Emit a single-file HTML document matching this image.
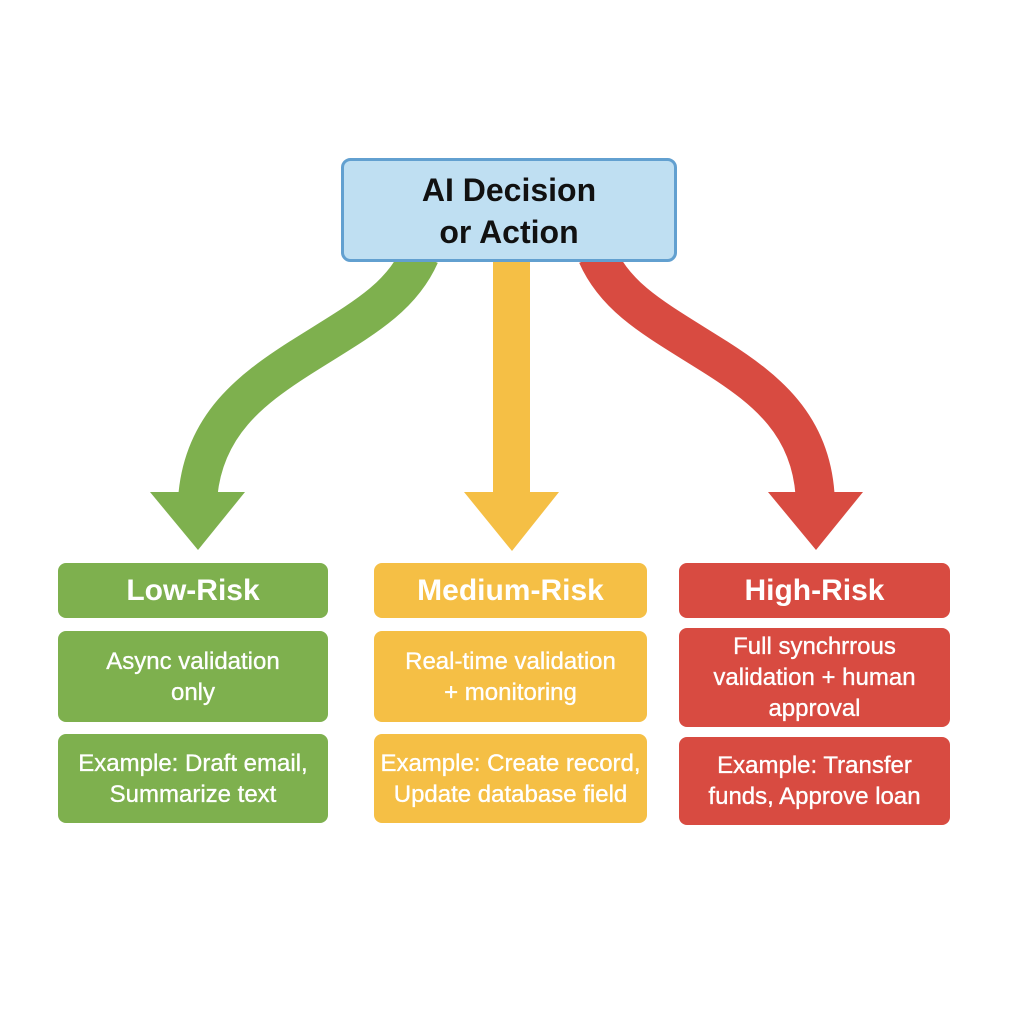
<!DOCTYPE html>
<html>
<head>
<meta charset="utf-8">
<style>
  html,body{margin:0;padding:0;background:#fff;}
  body{width:1024px;height:1024px;position:relative;overflow:hidden;font-family:"Liberation Sans",Arial,sans-serif;}
  .b{position:absolute;display:flex;align-items:center;justify-content:center;text-align:center;color:#fff;border-radius:8px;white-space:nowrap;}
  .h{font-weight:bold;font-size:30px;}
  .t{font-size:24px;line-height:31px;-webkit-text-stroke:0.35px #fff;}
  .g{background:#7eb04e;}
  .y{background:#f5bf45;}
  .r{background:#d84b41;}
</style>
</head>
<body>
<svg width="1024" height="1024" style="position:absolute;left:0;top:0">
  <!-- green arrow -->
  <path d="M 420 255 C 400 300, 360 320, 300 358 C 250 390, 205 425, 198 494" fill="none" stroke="#7eb04e" stroke-width="39"/>
  <polygon points="150,492 245,492 198,550" fill="#7eb04e"/>
  <!-- yellow arrow -->
  <rect x="493" y="258" width="37" height="236" fill="#f5bf45"/>
  <polygon points="464,492 559,492 512,551" fill="#f5bf45"/>
  <!-- red arrow -->
  <path d="M 597 255 C 617 300, 657 320, 717 358 C 767 390, 810 425, 815 494" fill="none" stroke="#d84b41" stroke-width="39"/>
  <polygon points="768,492 863,492 816,550" fill="#d84b41"/>
  <!-- top box -->
  <rect x="342.5" y="159.5" width="333" height="101" rx="8" ry="8" fill="#bfdff2" stroke="#62a0d0" stroke-width="3"/>
</svg>

<div class="b" style="left:342px;top:160px;width:334px;height:101px;color:#111;font-weight:bold;font-size:32px;line-height:42px;">AI Decision<br>or Action</div>

<!-- Low -->
<div class="b g h" style="left:58px;top:563px;width:270px;height:55px;">Low-Risk</div>
<div class="b g t" style="left:58px;top:631px;width:270px;height:91px;">Async validation<br>only</div>
<div class="b g t" style="left:58px;top:734px;width:270px;height:89px;">Example: Draft email,<br>Summarize text</div>

<!-- Medium -->
<div class="b y h" style="left:374px;top:563px;width:273px;height:55px;">Medium-Risk</div>
<div class="b y t" style="left:374px;top:631px;width:273px;height:91px;">Real-time validation<br>+ monitoring</div>
<div class="b y t" style="left:374px;top:734px;width:273px;height:89px;">Example: Create record,<br>Update database field</div>

<!-- High -->
<div class="b r h" style="left:679px;top:563px;width:271px;height:55px;">High-Risk</div>
<div class="b r t" style="left:679px;top:628px;width:271px;height:99px;">Full synchrrous<br>validation + human<br>approval</div>
<div class="b r t" style="left:679px;top:737px;width:271px;height:88px;">Example: Transfer<br>funds, Approve loan</div>
</body>
</html>
